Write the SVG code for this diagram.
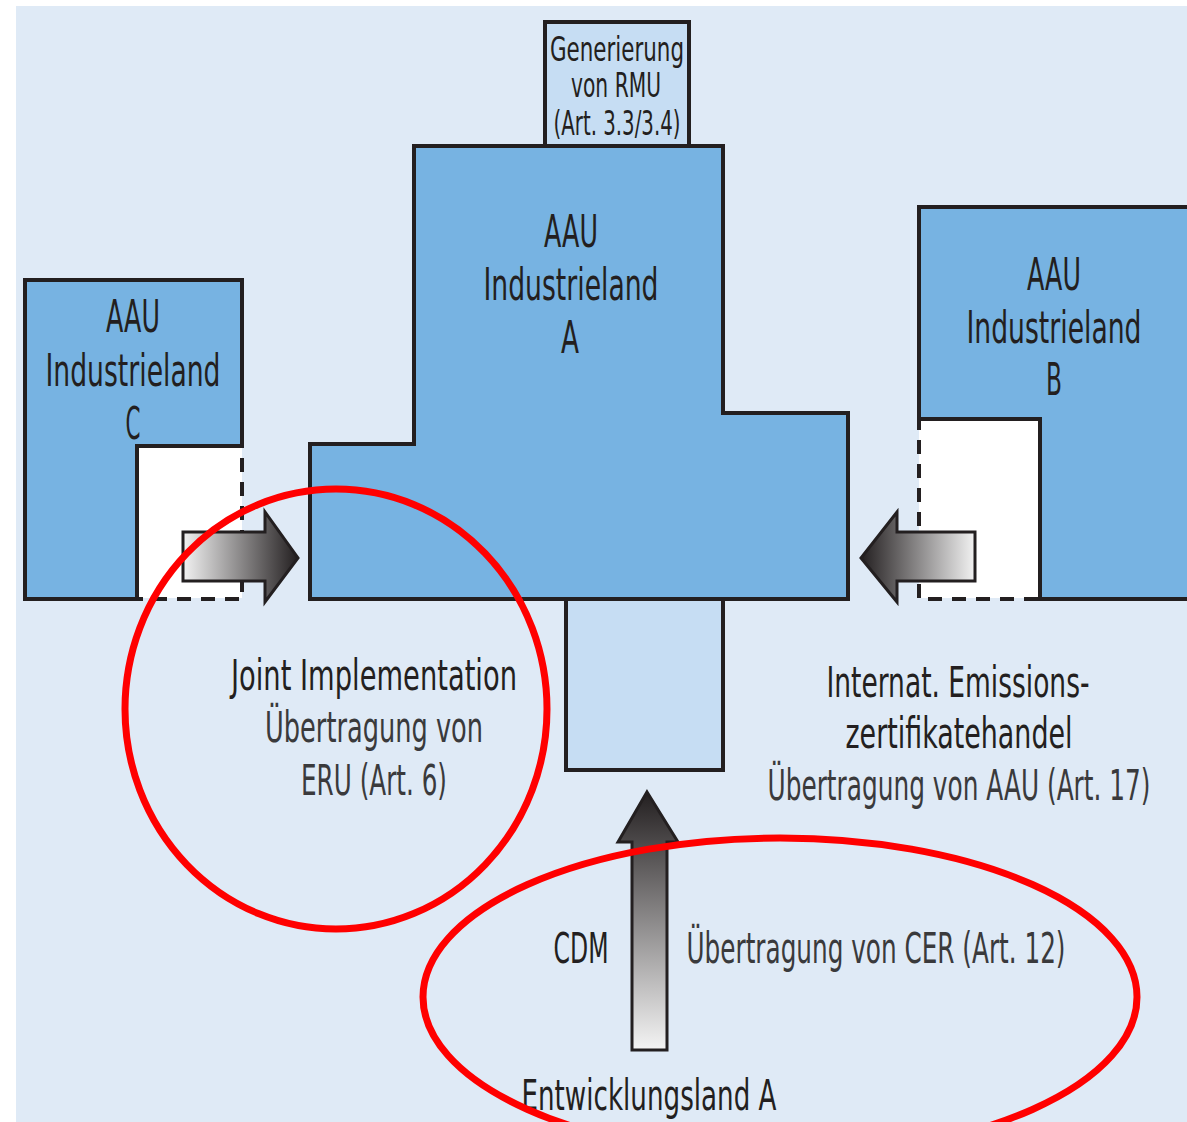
<svg xmlns="http://www.w3.org/2000/svg" width="1187" height="1122" viewBox="0 0 1187 1122">
<defs>
<style>
.box{fill:#77b3e2;stroke:#231f20;stroke-width:4;stroke-linejoin:miter}
.light{fill:#c6ddf3;stroke:#231f20;stroke-width:4}
.notch{fill:#ffffff;stroke:none}
.solid{fill:none;stroke:#231f20;stroke-width:4}
.dash{fill:none;stroke:#231f20;stroke-width:4;stroke-dasharray:14,10}
.arrow{stroke:#231f20;stroke-width:3;stroke-linejoin:miter}
.ring{fill:none;stroke:#ff0000;stroke-width:7}
text{font-family:"Liberation Sans Narrow","DejaVu Sans Condensed","Liberation Sans",sans-serif;fill:#231f20;text-anchor:middle}
.big{font-size:44px}
.mid{font-size:42px}
.sm{font-size:33px}
.sub{fill:#3a3a3c}
</style>
<linearGradient id="gR" x1="0" y1="0" x2="1" y2="0">
<stop offset="0" stop-color="#f2f2f2"/><stop offset="1" stop-color="#231f20"/>
</linearGradient>
<linearGradient id="gL" x1="0" y1="0" x2="1" y2="0">
<stop offset="0" stop-color="#231f20"/><stop offset="1" stop-color="#f2f2f2"/>
</linearGradient>
<linearGradient id="gU" x1="0" y1="0" x2="0" y2="1">
<stop offset="0" stop-color="#231f20"/><stop offset="1" stop-color="#f4f4f4"/>
</linearGradient>
</defs>
<rect x="0" y="0" width="1187" height="1122" fill="#ffffff"/>
<rect x="16" y="6" width="1171" height="1116" fill="#dfeaf6"/>

<g id="rmu">
<rect class="light" x="545" y="22" width="144" height="124"/>
<text class="sm" x="617" y="61" textLength="134" lengthAdjust="spacingAndGlyphs">Generierung</text>
<text class="sm" x="616" y="97" textLength="90" lengthAdjust="spacingAndGlyphs">von RMU</text>
<text class="sm" x="617" y="135" textLength="127" lengthAdjust="spacingAndGlyphs">(Art. 3.3/3.4)</text>
</g>

<g id="land-a">
<path class="box" d="M414,146 H723 V413 H848 V599 H310 V444 H414 Z"/>
<text class="big" x="571" y="247" textLength="54" lengthAdjust="spacingAndGlyphs">AAU</text>
<text class="big" x="571" y="300" textLength="175" lengthAdjust="spacingAndGlyphs">Industrieland</text>
<text class="big" x="570" y="353" textLength="18" lengthAdjust="spacingAndGlyphs">A</text>
</g>

<g id="cdm-box">
<rect class="light" x="566" y="599" width="157" height="171"/>
</g>

<g id="land-c">
<path class="box" d="M25,280 H242 V446 H137 V599 H25 Z"/>
<rect class="notch" x="139" y="448" width="103" height="150"/>
<path class="solid" d="M137,446 V599"/>
<path class="dash" d="M242,458 V599 H139"/>
<text class="big" x="133" y="332" textLength="54" lengthAdjust="spacingAndGlyphs">AAU</text>
<text class="big" x="133" y="386" textLength="175" lengthAdjust="spacingAndGlyphs">Industrieland</text>
<text class="big" x="133" y="439" textLength="15" lengthAdjust="spacingAndGlyphs">C</text>
</g>

<g id="land-b">
<path class="box" d="M919,207 H1189 V599 H1040 V419 H919 Z"/>
<rect class="notch" x="919" y="421" width="119" height="177"/>
<path class="solid" d="M919,207 V430"/>
<path class="dash" d="M919,440 V599 H1040"/>
<text class="big" x="1054" y="290" textLength="54" lengthAdjust="spacingAndGlyphs">AAU</text>
<text class="big" x="1054" y="343" textLength="175" lengthAdjust="spacingAndGlyphs">Industrieland</text>
<text class="big" x="1054" y="395" textLength="16" lengthAdjust="spacingAndGlyphs">B</text>
</g>

<g id="connectors">
<path class="arrow" fill="url(#gR)" d="M183,532 H265 V512 L298,558 L265,602 V581 H183 Z"/>
<path class="arrow" fill="url(#gL)" d="M975,532 H897 V512 L861,558 L897,602 V581 H975 Z"/>
<path class="arrow" fill="url(#gU)" d="M647,792 L678,842 H667 V1050 H632 V842 H618 Z"/>
</g>

<g id="labels">
<text class="mid" x="374" y="690" textLength="286" lengthAdjust="spacingAndGlyphs">Joint Implementation</text>
<text class="mid sub" x="374" y="742" textLength="218" lengthAdjust="spacingAndGlyphs">Übertragung von</text>
<text class="mid sub" x="374" y="795" textLength="146" lengthAdjust="spacingAndGlyphs">ERU (Art. 6)</text>
<text class="mid" x="958" y="697" textLength="263" lengthAdjust="spacingAndGlyphs">Internat. Emissions-</text>
<text class="mid" x="959" y="748" textLength="227" lengthAdjust="spacingAndGlyphs">zertifikatehandel</text>
<text class="mid sub" x="959" y="800" textLength="383" lengthAdjust="spacingAndGlyphs">Übertragung von AAU (Art. 17)</text>
<text class="mid" x="581" y="963" textLength="55" lengthAdjust="spacingAndGlyphs">CDM</text>
<text class="mid sub" x="876" y="963" textLength="379" lengthAdjust="spacingAndGlyphs">Übertragung von CER (Art. 12)</text>
<text class="mid" x="649" y="1110" textLength="255" lengthAdjust="spacingAndGlyphs">Entwicklungsland A</text>
</g>

<g id="highlights">
<ellipse class="ring" cx="336" cy="709" rx="211" ry="220"/>
<ellipse class="ring" cx="780" cy="997" rx="357" ry="159"/>
</g>
</svg>
